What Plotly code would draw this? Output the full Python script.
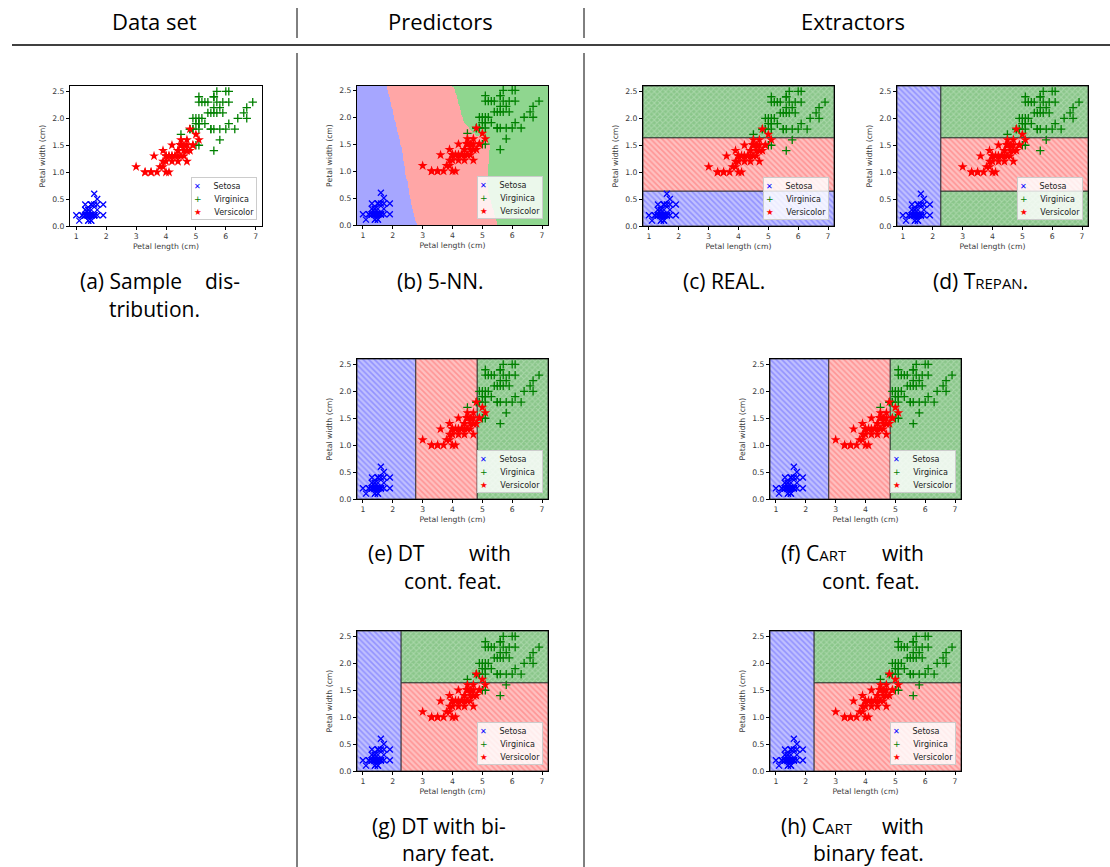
import numpy as np
import plotly.graph_objects as go

# ---------------- data (Iris: petal length / petal width, cm) ----------------
setosa_len = [1.4, 1.4, 1.3, 1.5, 1.4, 1.7, 1.4, 1.5, 1.4, 1.5, 1.5, 1.6, 1.4, 1.1, 1.2, 1.5, 1.3, 1.4, 1.7, 1.5,
              1.7, 1.5, 1.0, 1.7, 1.9, 1.6, 1.6, 1.5, 1.4, 1.6, 1.6, 1.5, 1.5, 1.4, 1.5, 1.2, 1.3, 1.4, 1.3, 1.5,
              1.3, 1.3, 1.3, 1.6, 1.9, 1.4, 1.6, 1.4, 1.5, 1.4]
setosa_wid = [0.2, 0.2, 0.2, 0.2, 0.2, 0.4, 0.3, 0.2, 0.2, 0.1, 0.2, 0.2, 0.1, 0.1, 0.2, 0.4, 0.4, 0.3, 0.3, 0.3,
              0.2, 0.4, 0.2, 0.5, 0.2, 0.2, 0.4, 0.2, 0.2, 0.2, 0.2, 0.4, 0.1, 0.2, 0.2, 0.2, 0.2, 0.1, 0.2, 0.2,
              0.3, 0.3, 0.2, 0.6, 0.4, 0.3, 0.2, 0.2, 0.2, 0.2]
versicolor_len = [4.7, 4.5, 4.9, 4.0, 4.6, 4.5, 4.7, 3.3, 4.6, 3.9, 3.5, 4.2, 4.0, 4.7, 3.6, 4.4, 4.5, 4.1, 4.5, 3.9,
                  4.8, 4.0, 4.9, 4.7, 4.3, 4.4, 4.8, 5.0, 4.5, 3.5, 3.8, 3.7, 3.9, 5.1, 4.5, 4.5, 4.7, 4.4, 4.1, 4.0,
                  4.4, 4.6, 4.0, 3.3, 4.2, 4.2, 4.2, 4.3, 3.0, 4.1]
versicolor_wid = [1.4, 1.5, 1.5, 1.3, 1.5, 1.3, 1.6, 1.0, 1.3, 1.4, 1.0, 1.5, 1.0, 1.4, 1.3, 1.4, 1.5, 1.0, 1.5, 1.1,
                  1.8, 1.3, 1.5, 1.2, 1.3, 1.4, 1.4, 1.7, 1.5, 1.0, 1.1, 1.0, 1.2, 1.6, 1.5, 1.6, 1.5, 1.3, 1.3, 1.3,
                  1.2, 1.4, 1.2, 1.0, 1.3, 1.2, 1.3, 1.3, 1.1, 1.3]
virginica_len = [6.0, 5.1, 5.9, 5.6, 5.8, 6.6, 4.5, 6.3, 5.8, 6.1, 5.1, 5.3, 5.5, 5.0, 5.1, 5.3, 5.5, 6.7, 6.9, 5.0,
                 5.7, 4.9, 6.7, 4.9, 5.7, 6.0, 4.8, 4.9, 5.6, 5.8, 6.1, 6.4, 5.6, 5.1, 5.6, 6.1, 5.6, 5.5, 4.8, 5.4,
                 5.6, 5.1, 5.1, 5.9, 5.7, 5.2, 5.0, 5.2, 5.4, 5.1]
virginica_wid = [2.5, 1.9, 2.1, 1.8, 2.2, 2.1, 1.7, 1.8, 1.8, 2.5, 2.0, 1.9, 2.1, 2.0, 2.4, 2.3, 1.8, 2.2, 2.3, 1.5,
                 2.3, 2.0, 2.0, 1.8, 2.1, 1.8, 1.8, 1.8, 2.1, 1.6, 1.9, 2.0, 2.2, 1.5, 1.4, 2.3, 2.4, 1.8, 1.8, 2.1,
                 2.4, 2.3, 1.9, 2.3, 2.5, 2.3, 1.9, 2.0, 2.3, 1.8]

class_names = ["Setosa", "Versicolor", "Virginica"]

# model parameters (split thresholds)
real_width_cuts = [0.65, 1.64]
trepan_length_cut = 2.27
trepan_width_cuts = [0.65, 1.64]
tree_cont_length_cuts = [2.77, 4.83]
tree_bin_length_cut = 2.28
tree_bin_width_cut = 1.64
knn_k = 5

captions_header = ["Data set", "Predictors", "Extractors"]

# ---------------- layout helpers ----------------
W, H = 1110, 867
XR = [0.8, 7.2]
YR = [0.0, 2.6]

panels = {  # plot-area pixel boxes: left, right, top, bottom
    "a": (70, 262, 86, 226),
    "b": (357, 548, 86, 225),
    "c": (643, 834, 86, 226),
    "d": (897, 1088, 86, 226),
    "e": (357, 548, 359, 499),
    "f": (770, 961, 359, 499),
    "g": (357, 548, 631, 771),
    "h": (770, 961, 631, 771),
}
order = ["a", "b", "c", "d", "e", "f", "g", "h"]

BLUE, RED, GREEN = "#0000ff", "#ff0000", "#008000"
knn_colors = ["rgb(166,166,255)", "rgb(255,166,166)", "rgb(143,214,143)"]
hatch = {
    0: dict(shape="\\", bgcolor="rgb(192,192,255)", fgcolor="rgb(100,100,255)", size=4, solidity=0.4),
    1: dict(shape="\\", bgcolor="rgb(255,192,192)", fgcolor="rgb(255,105,105)", size=4, solidity=0.4),
    2: dict(shape="x", bgcolor="rgb(138,198,138)", fgcolor="rgb(200,232,200)", size=4, solidity=0.45),
}
fill_base = ["rgb(175,175,255)", "rgb(255,175,175)", "rgb(150,205,150)"]

fig = go.Figure()


def axref(i):
    return ("x", "y") if i == 1 else (f"x{i}", f"y{i}")


def add_rect(i, cls, x0, x1, y0, y1):
    xa, ya = axref(i)
    fig.add_trace(go.Scatter(
        x=[x0, x1, x1, x0, x0], y=[y0, y0, y1, y1, y0], mode="lines",
        fill="toself", fillcolor=fill_base[cls], fillpattern=hatch[cls],
        line=dict(color="rgba(40,40,40,0.85)", width=1),
        hoverinfo="skip", showlegend=False, xaxis=xa, yaxis=ya))


def add_points(i):
    xa, ya = axref(i)
    fig.add_trace(go.Scatter(x=setosa_len, y=setosa_wid, mode="markers", name="Setosa",
                             marker=dict(symbol="x-thin-open", size=6, line=dict(color=BLUE, width=1.3), color=BLUE),
                             showlegend=False, xaxis=xa, yaxis=ya))
    fig.add_trace(go.Scatter(x=virginica_len, y=virginica_wid, mode="markers", name="Virginica",
                             marker=dict(symbol="cross-thin-open", size=6, line=dict(color=GREEN, width=1.3), color=GREEN),
                             showlegend=False, xaxis=xa, yaxis=ya))
    fig.add_trace(go.Scatter(x=versicolor_len, y=versicolor_wid, mode="markers", name="Versicolor",
                             marker=dict(symbol="star", size=7.5, color=RED, line=dict(width=0)),
                             showlegend=False, xaxis=xa, yaxis=ya))


# ---- (b) 5-NN decision map computed from the data ----
X = np.column_stack([setosa_len + versicolor_len + virginica_len,
                     setosa_wid + versicolor_wid + virginica_wid])
lab = np.array([0] * 50 + [1] * 50 + [2] * 50)
gx = np.arange(0.8, 7.2 + 1e-9, 0.02)
gy = np.arange(0.0, 2.58 + 1e-9, 0.02)
GX, GY = np.meshgrid(gx, gy)
P = np.column_stack([GX.ravel(), GY.ravel()])
pred = np.empty(len(P), dtype=int)
for s in range(0, len(P), 4000):
    blk = P[s:s + 4000]
    d = (blk[:, 0, None] - X[None, :, 0]) ** 2 + (blk[:, 1, None] - X[None, :, 1]) ** 2
    idx = np.argsort(d, axis=1, kind="stable")[:, :knn_k]
    votes = lab[idx]
    counts = np.stack([(votes == c).sum(1) for c in range(3)], axis=1)
    pred[s:s + 4000] = counts.argmax(1)
Z = pred.reshape(GY.shape)

# ---- regions for the rule-based models ----
x0, x1 = XR
y0, y1 = YR
regions = {
    "c": [(0, x0, x1, y0, real_width_cuts[0]), (1, x0, x1, real_width_cuts[0], real_width_cuts[1]),
          (2, x0, x1, real_width_cuts[1], y1)],
    "d": [(0, x0, trepan_length_cut, y0, y1),
          (2, trepan_length_cut, x1, y0, trepan_width_cuts[0]),
          (1, trepan_length_cut, x1, trepan_width_cuts[0], trepan_width_cuts[1]),
          (2, trepan_length_cut, x1, trepan_width_cuts[1], y1)],
    "e": [(0, x0, tree_cont_length_cuts[0], y0, y1),
          (1, tree_cont_length_cuts[0], tree_cont_length_cuts[1], y0, y1),
          (2, tree_cont_length_cuts[1], x1, y0, y1)],
    "g": [(0, x0, tree_bin_length_cut, y0, y1),
          (1, tree_bin_length_cut, x1, y0, tree_bin_width_cut),
          (2, tree_bin_length_cut, x1, tree_bin_width_cut, y1)],
}
regions["f"] = regions["e"]
regions["h"] = regions["g"]

axis_font = dict(family="DejaVu Sans", size=7.7, color="#3a3a3a")
layout_axes = {}
annotations = []

for n, key in enumerate(order, start=1):
    l, r, t, b = panels[key]
    xa, ya = axref(n)
    if key == "b":
        fig.add_trace(go.Heatmap(x=gx, y=gy, z=Z, zmin=0, zmax=2, showscale=False, hoverinfo="skip",
                                 colorscale=[[0, knn_colors[0]], [0.333, knn_colors[0]], [0.334, knn_colors[1]],
                                             [0.666, knn_colors[1]], [0.667, knn_colors[2]], [1, knn_colors[2]]],
                                 xaxis=xa, yaxis=ya))
    elif key in regions:
        for cls, a0, a1, b0, b1 in regions[key]:
            add_rect(n, cls, a0, a1, b0, b1)
    add_points(n)

    xr = [0.79, 7.21] if key == "a" else XR
    yr = [0.0, 2.58] if key == "b" else YR
    sfx = "" if n == 1 else str(n)
    layout_axes["xaxis" + sfx] = dict(
        domain=[l / W, r / W], range=xr, anchor="y" + sfx, tickvals=[1, 2, 3, 4, 5, 6, 7],
        showline=True, linecolor="black", linewidth=1, mirror=True, ticks="outside", ticklen=3,
        tickwidth=0.8, tickcolor="black", showgrid=False, zeroline=False, tickfont=axis_font,
        title=dict(text="Petal length (cm)", font=axis_font, standoff=3), automargin=False)
    layout_axes["yaxis" + sfx] = dict(
        domain=[1 - b / H, 1 - t / H], range=yr, anchor="x" + sfx,
        tickvals=[0, 0.5, 1.0, 1.5, 2.0, 2.5], tickformat=".1f",
        showline=True, linecolor="black", linewidth=1, mirror=True, ticks="outside", ticklen=3,
        tickwidth=0.8, tickcolor="black", showgrid=False, zeroline=False, tickfont=axis_font,
        title=dict(text="Petal width (cm)", font=axis_font, standoff=5), automargin=False)

    # legend box (text based)
    sp = "\u00a0"
    legend_text = (f"<span style='color:{BLUE};font-size:8px'>\u2715</span>{sp*4}<span style='font-size:8px'>Setosa</span><br>"
                   f"<span style='color:{GREEN};font-size:9px'>+</span>{sp*4}<span style='font-size:8px'>Virginica</span><br>"
                   f"<span style='color:{RED};font-size:8.5px'>\u2605</span>{sp*4}<span style='font-size:8px'>Versicolor</span>")
    annotations.append(dict(
        text=legend_text, xref=f"{xa} domain", yref=f"{ya} domain", x=0.975, y=0.04,
        xanchor="right", yanchor="bottom", showarrow=False, align="left",
        font=dict(family="DejaVu Sans", size=10, color="#222"),
        bgcolor="rgba(255,255,255,0.82)", bordercolor="#cccccc", borderwidth=1, borderpad=2))

fig.update_layout(**layout_axes)

cap_font = dict(family="Open Sans", size=21, color="black")
head_font = dict(family="Open Sans", size=22, color="black")


def txt(s, px, py, anchor="center", font=cap_font):
    annotations.append(dict(text=s, xref="paper", yref="paper", x=px / W, y=1 - py / H,
                            xanchor=anchor, yanchor="middle", showarrow=False, font=font))


# header
txt(captions_header[0], 154, 21, font=head_font)
txt(captions_header[1], 440, 21, font=head_font)
txt(captions_header[2], 853, 21, font=head_font)

sc = "<span style='font-size:15px'>"
# captions
txt("(a) Sample", 78, 281, "left")
txt("dis-", 242, 281, "right")
txt("tribution.", 107, 309, "left")
txt("(b) 5-NN.", 440, 281)
txt("(c) REAL.", 724, 281)
txt(f"(d) T{sc}REPAN</span>.", 980, 281)
txt("(e) DT", 366, 553, "left")
txt("with", 513, 553, "right")
txt("cont. feat.", 402, 581, "left")
txt(f"(f) C{sc}ART</span>", 779, 553, "left")
txt("with", 926, 553, "right")
txt("cont. feat.", 820, 581, "left")
txt("(g) DT with bi-", 439, 826)
txt("nary feat.", 400, 853, "left")
txt(f"(h) C{sc}ART</span>", 779, 826, "left")
txt("with", 926, 826, "right")
txt("binary feat.", 926, 853, "right")

shapes = [
    dict(type="line", xref="paper", yref="paper", x0=12 / W, x1=1, y0=1 - 45 / H, y1=1 - 45 / H,
         line=dict(color="black", width=1.5)),
]
for vx in (297, 584):
    shapes.append(dict(type="line", xref="paper", yref="paper", x0=vx / W, x1=vx / W,
                       y0=1 - 8 / H, y1=1 - 38 / H, line=dict(color="black", width=1)))
    shapes.append(dict(type="line", xref="paper", yref="paper", x0=vx / W, x1=vx / W,
                       y0=1 - 53 / H, y1=0, line=dict(color="black", width=1)))

fig.update_layout(
    width=W, height=H, margin=dict(l=0, r=0, t=0, b=0),
    paper_bgcolor="white", plot_bgcolor="white", showlegend=False,
    annotations=annotations, shapes=shapes,
)

fig.write_html("out.html", config={"displayModeBar": False},
               post_script="document.body.style.margin='0';document.body.style.overflow='hidden';")
